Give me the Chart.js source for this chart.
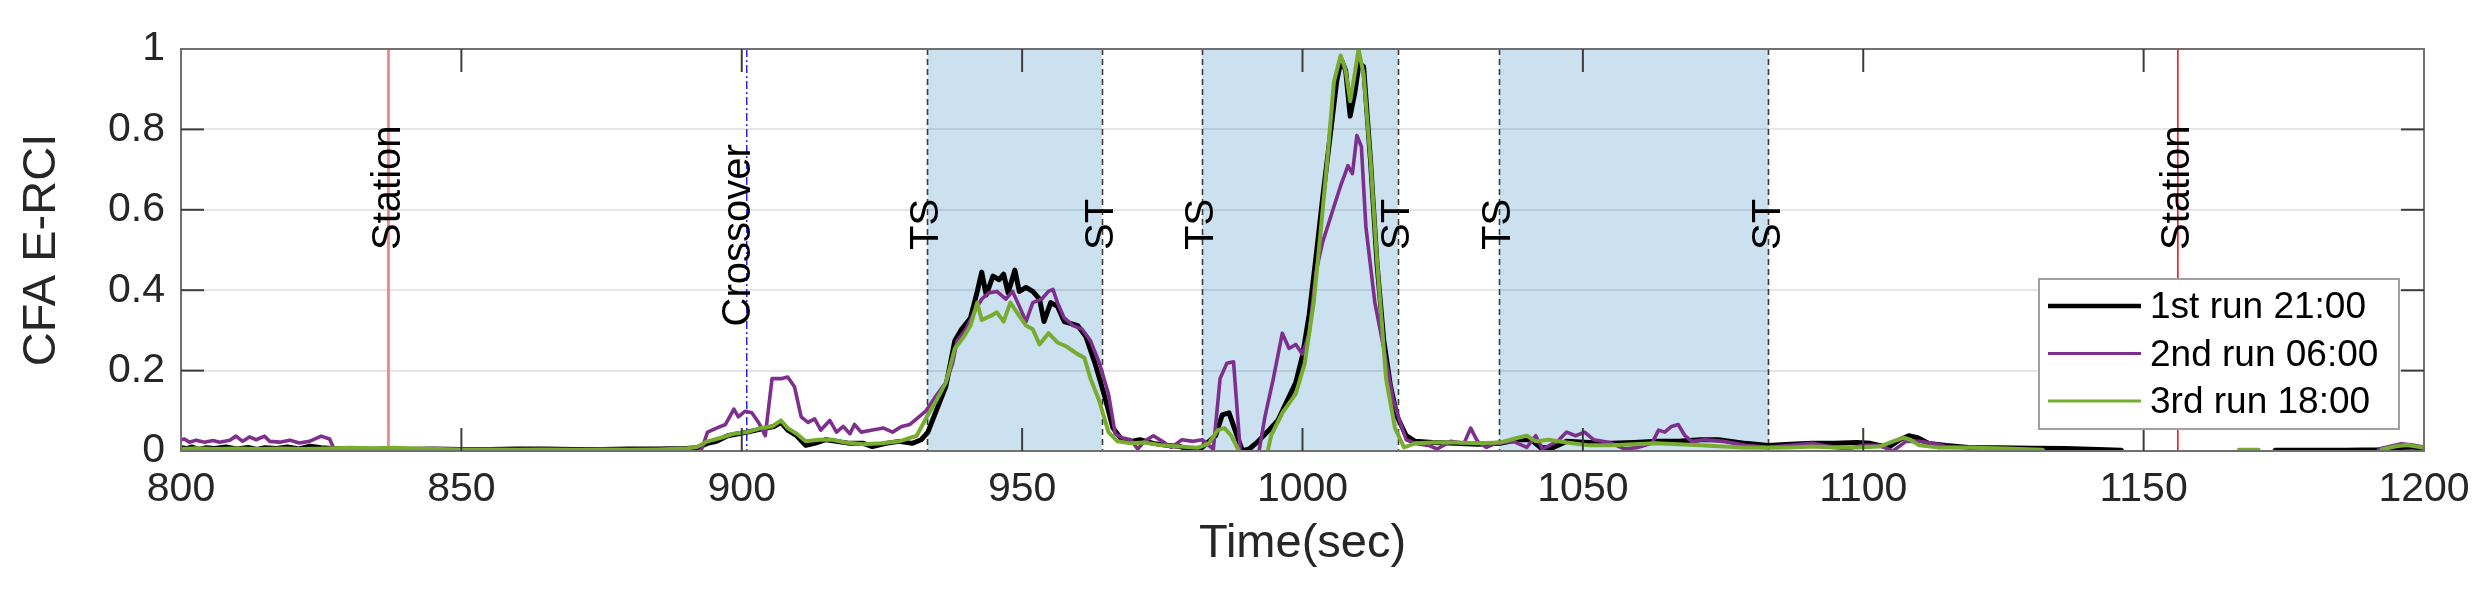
<!DOCTYPE html>
<html>
<head>
<meta charset="utf-8">
<script src="https://cdn.jsdelivr.net/npm/chart.js@4.4.1/dist/chart.umd.min.js"></script>
<style>
  html, body { margin: 0; padding: 0; background: #ffffff; }
  canvas { display: block; }
</style>
</head>
<body>
<canvas id="c" width="2492" height="592"></canvas>
<script>
// ---------------- DATA ----------------
const seriesLabels = ['1st run 21:00', '2nd run 06:00', '3rd run 18:00'];
const xTickLabels = ['800', '850', '900', '950', '1000', '1050', '1100', '1150', '1200'];
const yTickLabels = ['0', '0.2', '0.4', '0.6', '0.8', '1'];

// transition markers (seconds)
const tsTimes = [933.1, 982.1, 1035.1];
const stTimes = [964.2, 1017.0, 1083.1];
const stationTimes = [837.0, 1156.1];
const crossoverTime = 900.9;

const run1Time = [800,801,802,803,804.5,806,808,810,812,813.5,815,817,819,821,823,825,827,830,835,840,845,850,855,860,865,870,875,880,885,890,892,893.9,895.5,897.5,899.4,901,902.6,904.2,905.8,907,908.2,909.8,911.4,913,915,916.9,919.3,921.7,923.3,925.7,928.1,930.4,932,933.2,934.8,936.4,938,939.2,940.8,942,942.8,943.6,944.8,945.9,946.7,947.5,948.7,949.5,950.7,951.9,953.1,953.9,955.1,956.3,957.5,958.7,959.9,961.4,963,964.6,966.2,967.8,969.4,971,973.4,975.8,978.2,980.1,982.1,984.5,985.7,986.9,988.1,989.3,990.5,992.1,993.7,995.6,997.2,998.8,1000,1001.2,1002.4,1003.6,1004.9,1006.1,1006.9,1007.7,1008.5,1009.3,1010.1,1010.9,1012.1,1013.3,1014.5,1015.7,1016.9,1018.5,1020.1,1023.2,1027.2,1031.2,1035.2,1038.4,1040.8,1042.4,1044.7,1047.1,1051.1,1055.1,1059.1,1063.1,1067,1071,1074.2,1079,1083,1087,1090.9,1094.9,1098.9,1101.3,1104.5,1106.5,1108.1,1109.7,1111.7,1114.8,1118.8,1124,1130,1136,1142,1146,1147,1172.5,1173.5,1180,1186,1192,1195,1198,1200];
const run1Values = [0.008,0.006,0.01,0.004,0.008,0.006,0.01,0.005,0.009,0.004,0.008,0.006,0.01,0.005,0.012,0.008,0.006,0.005,0.004,0.004,0.005,0.004,0.004,0.005,0.005,0.004,0.004,0.005,0.005,0.006,0.008,0.019,0.024,0.038,0.043,0.047,0.052,0.057,0.061,0.071,0.052,0.038,0.014,0.019,0.028,0.024,0.019,0.019,0.011,0.019,0.024,0.019,0.028,0.047,0.104,0.161,0.274,0.303,0.331,0.397,0.445,0.388,0.435,0.426,0.44,0.393,0.45,0.397,0.407,0.397,0.378,0.322,0.369,0.36,0.322,0.317,0.312,0.284,0.218,0.142,0.057,0.028,0.024,0.028,0.019,0.014,0.011,0.002,0.009,0.038,0.09,0.095,0.047,0,0.005,0.024,0.047,0.076,0.123,0.17,0.237,0.34,0.482,0.63,0.78,0.92,0.974,0.946,0.833,0.889,0.965,0.956,0.728,0.464,0.274,0.161,0.085,0.038,0.024,0.021,0.019,0.017,0.019,0.028,0.028,0.009,0.009,0.024,0.021,0.019,0.021,0.024,0.024,0.028,0.028,0.019,0.014,0.017,0.019,0.019,0.021,0.019,0.009,0.028,0.038,0.033,0.019,0.014,0.009,0.008,0.007,0.006,0.004,0.002,-0.02,-0.02,0.002,0.002,0.002,0.003,0.008,0.01,0.006];

const run2Time = [800,800.6,801.5,802.7,804.2,805.7,806.9,808.7,809.8,811,812.2,813.4,814.9,815.8,817.6,819.4,821.1,822.9,825,826.5,827.3,828,892,893,893.9,895.5,897.1,898.6,899.4,900.6,901.8,903,904.2,905.4,907,908.2,909.4,910.6,911.8,913,914.1,915.7,916.9,918.1,919.3,920.1,921.3,923.3,925.3,926.9,928.5,930,931.6,932.8,934.4,936.4,937.6,938.4,940,941.6,942.8,944,945.5,947.1,948.3,949.5,950.7,951.9,953.5,954.7,955.5,956.3,957.5,959.1,960.7,962.2,963.8,965.4,966.6,967.8,969.4,970.6,971.8,973.4,975,976.6,978.5,980.5,982.1,984.1,985.3,986.5,987.7,988.9,989.5,992,993.3,994.8,996.4,997.6,998.8,1000,1001.2,1002.4,1003.6,1005.2,1006.8,1007.6,1008.1,1008.9,1009.7,1010.5,1011.3,1012.9,1014.5,1016.1,1017.3,1018.5,1020.1,1022.5,1024,1026.4,1028.8,1030,1031.2,1032.8,1034.4,1037.6,1040,1041.6,1042.8,1045.5,1047.1,1048.7,1050.3,1051.9,1053.5,1055.1,1057.5,1059.9,1062.3,1063.5,1064.6,1065.8,1067,1068.2,1069.4,1071.8,1075,1079,1083,1087,1090.9,1094.9,1097.3,1099.7,1102.9,1105.3,1107.6,1110,1112.4,1114.8,1118.8,1122,1125,1126,1191,1192,1194,1196,1198,1200];
const run2Values = [0.028,0.03,0.022,0.027,0.022,0.026,0.022,0.027,0.037,0.024,0.035,0.028,0.037,0.024,0.022,0.027,0.02,0.024,0.037,0.03,0.005,-0.02,-0.02,0.01,0.047,0.057,0.066,0.104,0.085,0.099,0.095,0.071,0.038,0.18,0.18,0.184,0.16,0.085,0.071,0.08,0.052,0.076,0.047,0.061,0.043,0.066,0.047,0.052,0.057,0.047,0.061,0.066,0.085,0.099,0.132,0.17,0.218,0.274,0.303,0.35,0.378,0.393,0.397,0.378,0.397,0.36,0.322,0.369,0.378,0.397,0.402,0.369,0.331,0.312,0.303,0.274,0.218,0.142,0.043,0.033,0.028,0.005,0.024,0.038,0.024,0.009,0.028,0.024,0.028,0.005,0.18,0.218,0.222,0,-0.02,-0.02,0.085,0.18,0.293,0.255,0.265,0.241,0.293,0.445,0.52,0.59,0.66,0.69,0.71,0.69,0.785,0.757,0.558,0.369,0.255,0.132,0.076,0.028,0.019,0.014,0.005,0.024,0.019,0.057,0.024,0.009,0.019,0.024,0.009,0.038,0.005,0.024,0.047,0.038,0.047,0.028,0.024,0.019,0.005,0.009,0.019,0.052,0.047,0.061,0.066,0.038,0.024,0.028,0.024,0.014,0.009,0.014,0.019,0.009,0.005,0.014,0.014,0,0.024,0.024,0.019,0.011,0.009,0.006,0.002,-0.02,-0.02,0.005,0.012,0.018,0.015,0.01];

const run3Time = [800,803,806,810,814,818,822,826,830,834,838,842,846,850,855,860,865,870,875,880,885,890,892,893.9,896.3,898.6,901,903.4,905.4,907,908.2,909.8,911.4,913.8,916.2,918.5,921.7,924.9,928.1,931.2,933.2,934.8,936.4,938,939.6,940.8,942,942.8,944.4,945.5,946.7,947.9,949.5,950.7,951.9,953.1,954.7,956.3,957.9,959.9,961.1,962.2,963.8,965.4,967,969.4,971.8,975,978.2,981.3,983.3,984.9,986.1,987.3,988.5,989.3,993.5,994.4,996.4,998.8,1000.4,1002,1003.2,1004.4,1005.6,1006.8,1007.7,1008.5,1009.3,1010,1010.9,1012.1,1013.3,1014.9,1016.5,1018.1,1020.1,1023.2,1027.2,1031.2,1035.2,1038.4,1040,1041.6,1043.9,1047.1,1051.1,1055.1,1059.1,1063.1,1067,1071,1075,1079,1083,1087,1090.9,1094.9,1098.9,1102.9,1105.3,1107.2,1108.4,1110,1113.2,1118.8,1124,1128,1132,1133,1166.5,1167,1170.5,1171,1191.5,1192.5,1195,1197,1200];
const run3Values = [0.005,0.007,0.005,0.006,0.005,0.006,0.005,0.006,0.008,0.007,0.008,0.006,0.005,0.004,0.004,0.003,0.004,0.003,0.004,0.003,0.004,0.006,0.01,0.024,0.033,0.043,0.047,0.057,0.061,0.076,0.057,0.043,0.024,0.028,0.028,0.021,0.017,0.019,0.024,0.038,0.09,0.128,0.17,0.255,0.284,0.312,0.369,0.326,0.336,0.345,0.322,0.369,0.336,0.312,0.303,0.265,0.293,0.27,0.26,0.241,0.232,0.18,0.123,0.047,0.024,0.019,0.021,0.014,0.011,0.008,0.019,0.052,0.057,0.038,0.005,-0.02,-0.02,0.038,0.095,0.142,0.218,0.369,0.54,0.72,0.918,0.984,0.946,0.87,0.937,1.0,0.937,0.728,0.473,0.18,0.057,0.009,0.019,0.021,0.021,0.019,0.021,0.033,0.038,0.024,0.028,0.021,0.014,0.014,0.017,0.019,0.017,0.014,0.011,0.009,0.008,0.009,0.011,0.009,0.009,0.011,0.024,0.033,0.028,0.014,0.009,0.008,0.007,0.005,0.003,-0.02,-0.02,0.003,0.003,-0.02,-0.02,0.004,0.012,0.015,0.008];

// ---------------- STYLE / DRAWING ----------------
const FONT = "'Liberation Sans', Arial, Helvetica, sans-serif";
Chart.defaults.font.family = FONT;

function pts(ts, vs) { return ts.map((t, i) => ({ x: t, y: vs[i] })); }

function vText(ctx, text, px, py) {
  ctx.save();
  ctx.translate(px, py);
  ctx.rotate(-Math.PI / 2);
  ctx.textAlign = 'left';
  ctx.textBaseline = 'middle';
  ctx.fillText(text, 0, 0);
  ctx.restore();
}

const overlay = {
  id: 'overlay',
  beforeDraw(chart) {
    const { ctx, chartArea: a, scales: { x } } = chart;
    ctx.save();
    ctx.fillStyle = 'rgb(203,225,240)';
    tsTimes.forEach((t, i) => {
      const x0 = x.getPixelForValue(t), x1 = x.getPixelForValue(stTimes[i]);
      ctx.fillRect(x0, a.top, x1 - x0, a.bottom - a.top);
    });
    ctx.restore();
  },
  beforeDatasetsDraw(chart) {
    const { ctx, chartArea: a, scales: { x } } = chart;
    ctx.save();
    // TS / ST dashed lines
    ctx.strokeStyle = '#3a3a3a';
    ctx.lineWidth = 1.6;
    ctx.setLineDash([6, 4]);
    tsTimes.concat(stTimes).forEach(t => {
      const px = Math.round(x.getPixelForValue(t)) + 0.5;
      ctx.beginPath(); ctx.moveTo(px, a.top); ctx.lineTo(px, a.bottom); ctx.stroke();
    });
    // crossover dash-dot
    ctx.strokeStyle = '#0000ff';
    ctx.lineWidth = 1.3;
    ctx.setLineDash([8, 3, 2, 3]);
    let px = x.getPixelForValue(crossoverTime);
    ctx.beginPath(); ctx.moveTo(px, a.top); ctx.lineTo(px, a.bottom); ctx.stroke();
    // stations
    ctx.setLineDash([]);
    const stColors = ['rgba(240,110,110,0.85)', '#ff1010'];
    const stWidths = [2.8, 1.6];
    stationTimes.forEach((t, i) => {
      const p = x.getPixelForValue(t);
      ctx.strokeStyle = stColors[i];
      ctx.lineWidth = stWidths[i];
      ctx.beginPath(); ctx.moveTo(p, a.top); ctx.lineTo(p, a.bottom); ctx.stroke();
    });
    ctx.restore();
  },
  afterDatasetsDraw(chart) {
    const { ctx, chartArea: a, scales: { x, y } } = chart;
    ctx.save();
    // frame
    ctx.strokeStyle = '#707070';
    ctx.lineWidth = 2;
    ctx.strokeRect(a.left, a.top, a.right - a.left, a.bottom - a.top);
    // inward ticks
    ctx.strokeStyle = '#3c3c3c';
    ctx.lineWidth = 2;
    const tl = 23;
    x.ticks.forEach(tk => {
      const p = x.getPixelForValue(tk.value);
      if (p <= a.left + 1 || p >= a.right - 1) return;
      ctx.beginPath(); ctx.moveTo(p, a.bottom); ctx.lineTo(p, a.bottom - tl); ctx.stroke();
      ctx.beginPath(); ctx.moveTo(p, a.top); ctx.lineTo(p, a.top + tl); ctx.stroke();
    });
    y.ticks.forEach(tk => {
      const p = y.getPixelForValue(tk.value);
      if (p <= a.top + 1 || p >= a.bottom - 1) return;
      ctx.beginPath(); ctx.moveTo(a.left, p); ctx.lineTo(a.left + tl, p); ctx.stroke();
      ctx.beginPath(); ctx.moveTo(a.right, p); ctx.lineTo(a.right - tl, p); ctx.stroke();
    });
    // rotated annotation labels
    ctx.fillStyle = '#000000';
    ctx.font = '40px ' + FONT;
    stationTimes.forEach(t => vText(ctx, 'Station', x.getPixelForValue(t), y.getPixelForValue(0.5)));
    vText(ctx, 'Crossover', x.getPixelForValue(crossoverTime) - 8, y.getPixelForValue(0.31));
    tsTimes.forEach(t => vText(ctx, 'TS', x.getPixelForValue(t), y.getPixelForValue(0.5)));
    stTimes.forEach(t => vText(ctx, 'ST', x.getPixelForValue(t), y.getPixelForValue(0.5)));
    // legend
    const bx = a.right - 385, by = a.bottom - 172, bw = 360, bh = 150;
    ctx.fillStyle = '#ffffff';
    ctx.fillRect(bx, by, bw, bh);
    ctx.strokeStyle = '#a0a0a0';
    ctx.lineWidth = 2;
    ctx.strokeRect(bx, by, bw, bh);
    ctx.font = '37px ' + FONT;
    ctx.textAlign = 'left';
    ctx.textBaseline = 'middle';
    chart.data.datasets.forEach((ds, i) => {
      const ry = by + 27 + i * 47.5;
      ctx.strokeStyle = ds.borderColor;
      ctx.lineWidth = ds.legendWidth;
      ctx.beginPath(); ctx.moveTo(bx + 9, ry); ctx.lineTo(bx + 102, ry); ctx.stroke();
      ctx.fillStyle = '#000000';
      ctx.fillText(ds.label, bx + 111, ry + 2);
    });
    ctx.restore();
  }
};

const lineBase = { pointRadius: 0, tension: 0, clip: 0, borderJoinStyle: 'round', borderCapStyle: 'round', fill: false };

new Chart(document.getElementById('c'), {
  type: 'line',
  data: {
    datasets: [
      Object.assign({ label: seriesLabels[0], data: pts(run1Time, run1Values), borderColor: '#000000', borderWidth: 5, legendWidth: 4.5, order: 3 }, lineBase),
      Object.assign({ label: seriesLabels[1], data: pts(run2Time, run2Values), borderColor: '#7E2F8E', borderWidth: 3.6, legendWidth: 3.2, order: 2 }, lineBase),
      Object.assign({ label: seriesLabels[2], data: pts(run3Time, run3Values), borderColor: '#77AC30', borderWidth: 4, legendWidth: 3.2, order: 1 }, lineBase)
    ]
  },
  options: {
    responsive: false,
    animation: false,
    devicePixelRatio: 1,
    parsing: true,
    layout: { padding: { top: 49, right: 68, left: 0, bottom: 0 } },
    plugins: { legend: { display: false }, tooltip: { enabled: false }, title: { display: false } },
    scales: {
      x: {
        type: 'linear', min: 800, max: 1200,
        ticks: {
          stepSize: 50, padding: 14, color: '#262626', font: { size: 41, family: FONT },
          maxRotation: 0, autoSkip: false,
          callback: (v, i) => xTickLabels[i]
        },
        grid: { display: false, drawTicks: false },
        border: { display: false },
        title: { display: true, text: 'Time(sec)', color: '#262626', font: { size: 47, family: FONT }, padding: { top: 0, bottom: 20 } },
        afterFit(s) { s.height = 141; }
      },
      y: {
        type: 'linear', min: 0, max: 1,
        ticks: {
          stepSize: 0.2, padding: 16, color: '#262626', font: { size: 41, family: FONT },
          callback: (v, i) => yTickLabels[i]
        },
        grid: { color: 'rgba(0,0,0,0.1)', lineWidth: 2, drawTicks: false },
        border: { display: false },
        title: { display: true, text: 'CFA E-RCI', color: '#262626', font: { size: 47, family: FONT }, padding: { top: 14, bottom: 0 } },
        afterFit(s) { s.width = 181; }
      }
    }
  },
  plugins: [overlay]
});
</script>
</body>
</html>
